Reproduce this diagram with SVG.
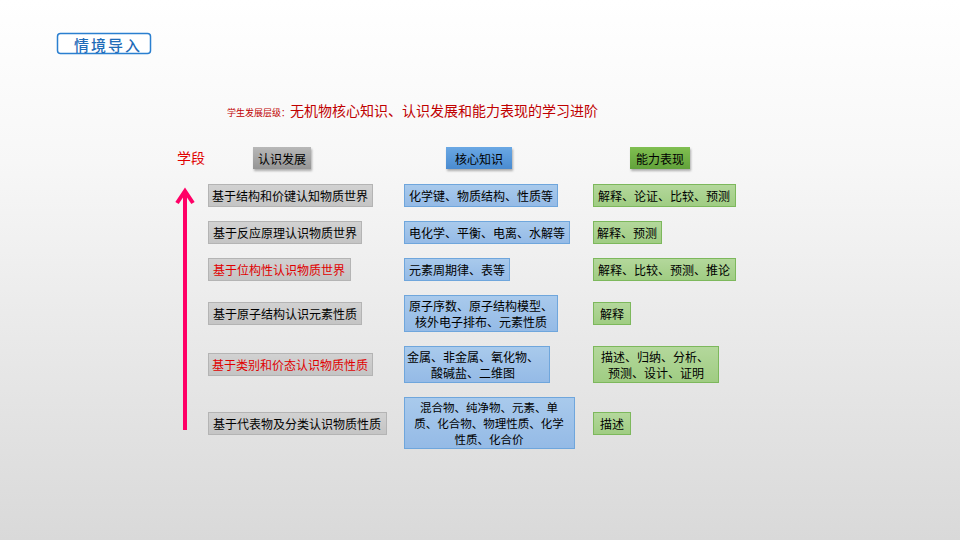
<svg xmlns="http://www.w3.org/2000/svg" width="960" height="540" viewBox="0 0 960 540">
<defs>
<linearGradient id="bg" x1="0" y1="0" x2="0" y2="1">
<stop offset="0" stop-color="#ffffff"/>
<stop offset="0.3" stop-color="#f7f7f7"/>
<stop offset="1" stop-color="#d9d9d9"/>
</linearGradient>
<linearGradient id="hg" x1="0" y1="0" x2="0" y2="1">
<stop offset="0" stop-color="#b8b8b8"/><stop offset="1" stop-color="#959595"/>
</linearGradient>
<linearGradient id="hb" x1="0" y1="0" x2="0" y2="1">
<stop offset="0" stop-color="#6aa8e4"/><stop offset="1" stop-color="#4a8bd0"/>
</linearGradient>
<linearGradient id="hgr" x1="0" y1="0" x2="0" y2="1">
<stop offset="0" stop-color="#80bf52"/><stop offset="1" stop-color="#62a23a"/>
</linearGradient>
<linearGradient id="gg" x1="0" y1="0" x2="0" y2="1">
<stop offset="0" stop-color="#d2d2d2"/><stop offset="1" stop-color="#c4c4c4"/>
</linearGradient>
<linearGradient id="gb" x1="0" y1="0" x2="0" y2="1">
<stop offset="0" stop-color="#a9caec"/><stop offset="1" stop-color="#94bae6"/>
</linearGradient>
<linearGradient id="ggr" x1="0" y1="0" x2="0" y2="1">
<stop offset="0" stop-color="#b4d89c"/><stop offset="1" stop-color="#9fcc82"/>
</linearGradient>
<filter id="sh" x="-10%" y="-20%" width="130%" height="160%">
<feDropShadow dx="1" dy="2" stdDeviation="1" flood-color="#000" flood-opacity="0.3"/>
</filter>
</defs>
<style>
text{font-family:"Noto Sans CJK SC","Liberation Sans",sans-serif;font-size:12px;fill:#000;text-anchor:middle;dominant-baseline:central}
.g{fill:url(#gg);stroke:#b4b4b4;stroke-width:1}
.b{fill:url(#gb);stroke:#6fa6dc;stroke-width:1}
.n{fill:url(#ggr);stroke:#7db85c;stroke-width:1}
.red{fill:#e00000}
.l{text-anchor:start}
</style>
<rect width="960" height="540" fill="url(#bg)"/>
<g id="title">
<rect x="57.500" y="33.500" width="93" height="20" rx="3" fill="#fff" stroke="#2a7fd0" stroke-width="1.500"/>
<text x="108" y="44" style="fill:#1f6cb8;font-size:15px;font-weight:500;letter-spacing:2px">情境导入</text>
</g>
<g id="subtitle">
<text class="l" x="227" y="112" style="fill:#c00000;font-size:9px">学生发展层级：</text>
<text class="l" x="290" y="110" style="fill:#c00000;font-size:14px">无机物核心知识、认识发展和能力表现的学习进阶</text>
</g>
<g id="xueduan"><text x="191" y="157" style="fill:#e00000;font-size:14px">学段</text></g>
<g id="h1"><rect x="253" y="147" width="58" height="22" fill="url(#hg)" filter="url(#sh)"/><text x="282" y="158">认识发展</text></g>
<g id="h2"><rect x="446" y="147" width="66" height="22" fill="url(#hb)" filter="url(#sh)"/><text x="479" y="158">核心知识</text></g>
<g id="h3"><rect x="630" y="147" width="60" height="22" fill="url(#hgr)" filter="url(#sh)"/><text x="660" y="158">能力表现</text></g>
<g id="connectors">
<line x1="185" y1="430" x2="185" y2="191" stroke="#ff0066" stroke-width="4"/>
<polyline points="177,203 185,191 193,203" fill="none" stroke="#ff0066" stroke-width="4" stroke-linejoin="miter"/>
</g>
<g id="g1"><rect class="g" x="208.500" y="184.500" width="164" height="22"/><text x="290" y="195">基于结构和价键认知物质世界</text></g>
<g id="g2"><rect class="g" x="208.500" y="221.500" width="153" height="22"/><text x="285" y="232">基于反应原理认识物质世界</text></g>
<g id="g3"><rect class="g" x="208.500" y="258.500" width="142" height="22"/><text x="279" y="269" class="red">基于位构性认识物质世界</text></g>
<g id="g4"><rect class="g" x="208.500" y="302.500" width="153" height="22"/><text x="285" y="313">基于原子结构认识元素性质</text></g>
<g id="g5"><rect class="g" x="208.500" y="353.500" width="164" height="22"/><text x="290" y="364" class="red">基于类别和价态认识物质性质</text></g>
<g id="g6"><rect class="g" x="208.500" y="412.500" width="178" height="22"/><text x="297" y="423">基于代表物及分类认识物质性质</text></g>
<g id="b1"><rect class="b" x="404.500" y="184.500" width="153" height="22"/><text x="481" y="195">化学键、物质结构、性质等</text></g>
<g id="b2"><rect class="b" x="404.500" y="221.500" width="165" height="22"/><text x="487" y="232">电化学、平衡、电离、水解等</text></g>
<g id="b3"><rect class="b" x="404.500" y="258.500" width="105" height="22"/><text x="457" y="269">元素周期律、表等</text></g>
<g id="b4"><rect class="b" x="404.500" y="295.500" width="153" height="36"/><text x="481" y="305">原子序数、原子结构模型、</text><text x="481" y="321">核外电子排布、元素性质</text></g>
<g id="b5"><rect class="b" x="404.500" y="346.500" width="145" height="36"/><text x="473" y="356">金属、非金属、氧化物、</text><text x="473" y="372">酸碱盐、二维图</text></g>
<g id="b6"><rect class="b" x="404.500" y="397.500" width="170" height="51"/><text x="489" y="407" style="font-size:11.500px">混合物、纯净物、元素、单</text><text x="489" y="423" style="font-size:11.500px">质、化合物、物理性质、化学</text><text x="489" y="439" style="font-size:11.500px">性质、化合价</text></g>
<g id="n1"><rect class="n" x="593.500" y="184.500" width="142" height="22"/><text x="664" y="195">解释、论证、比较、预测</text></g>
<g id="n2"><rect class="n" x="593.500" y="221.500" width="68" height="22"/><text x="627" y="232">解释、预测</text></g>
<g id="n3"><rect class="n" x="593.500" y="258.500" width="142" height="22"/><text x="664" y="269">解释、比较、预测、推论</text></g>
<g id="n4"><rect class="n" x="593.500" y="302.500" width="37" height="22"/><text x="612" y="313">解释</text></g>
<g id="n5"><rect class="n" x="593.500" y="346.500" width="125" height="36"/><text x="655" y="356">描述、归纳、分析、</text><text x="656" y="372">预测、设计、证明</text></g>
<g id="n6"><rect class="n" x="593.500" y="412.500" width="37" height="22"/><text x="612" y="423">描述</text></g>
</svg>
